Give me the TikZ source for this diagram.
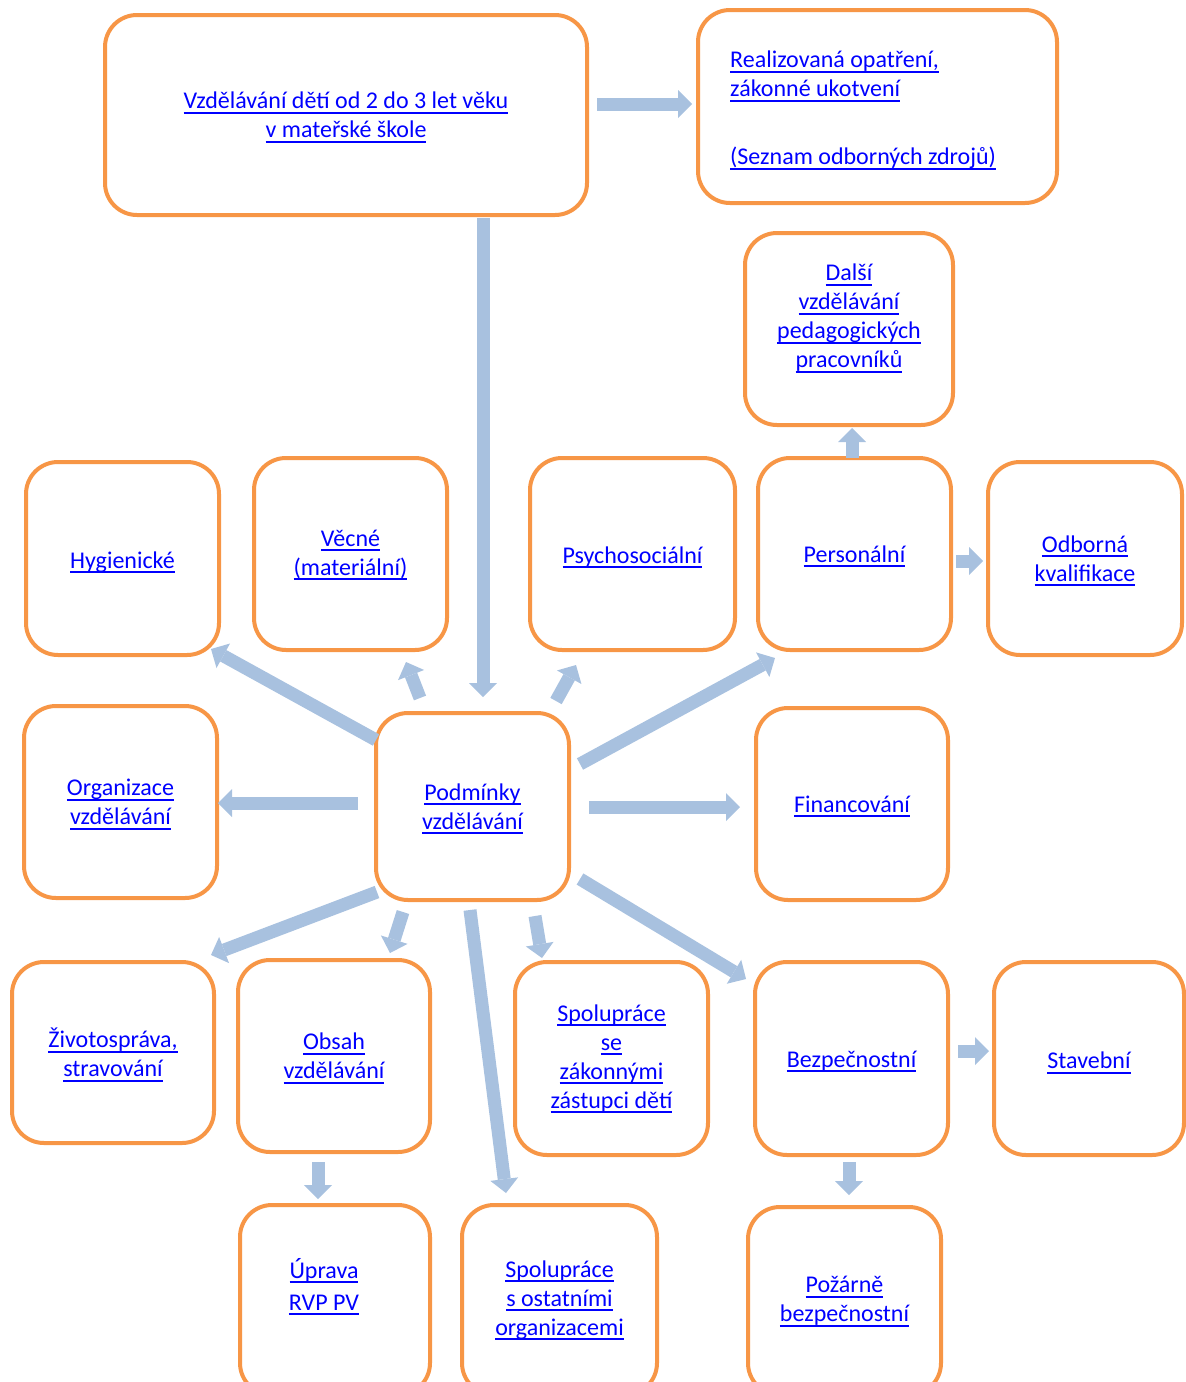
\documentclass[tikz,border=0pt]{standalone}
\usepackage{fontspec}
\setmainfont{Carlito}
\usetikzlibrary{arrows.meta}
\definecolor{boxorange}{HTML}{F79646}
\definecolor{arrblue}{HTML}{A8C1DF}
\definecolor{linkblue}{HTML}{0000FF}
\newcommand{\lk}[1]{\textcolor{linkblue}{\setbox0\hbox{#1}\rlap{\smash{\rule[-5pt]{\wd0}{2pt}}}\box0}}
\begin{document}
\begin{tikzpicture}[x=1pt,y=-1pt,
  box/.style={draw=boxorange,line width=4pt,rounded corners=32pt,fill=white,
    align=center,inner sep=0pt,font=\fontsize{24}{29}\selectfont},
  txt/.style={align=center,inner sep=0pt,font=\fontsize{24}{29}\selectfont},
  barrow/.style={draw=arrblue,line width=13pt,
    -{Triangle[length=14pt,width=28pt,line width=0pt]}}]
\useasboundingbox (0,0) rectangle (1186,1382);
\clip (0,0) rectangle (1186,1382);
% boxes
\node[box,minimum width=482pt,minimum height=200pt] (top) at (346,115)
  {\lk{Vzdělávání dětí od 2 do 3 let věku}\\\lk{v mateřské škole}};
\node[box,minimum width=359pt,minimum height=193pt] (res) at (877.5,106.5) {};
\node[txt,align=left,anchor=north west] (restext) at (730,51)
  {\lk{Realizovaná opatření,}\\\lk{zákonné ukotvení}\\[39pt]\lk{(Seznam odborných zdrojů)}};
\node[box,minimum width=208pt,minimum height=192pt] (dalsi) at (849,329) {};
\node[txt] (dalsitext) at (849,318)
  {\lk{Další}\\\lk{vzdělávání}\\\lk{pedagogických}\\\lk{pracovníků}};
\node[box,minimum width=193pt,minimum height=193pt] (hyg) at (122.5,558.5) {};
\node[txt] (hygtext) at (122.5,562) {\lk{Hygienické}};
\node[box,minimum width=193pt,minimum height=192pt] (vec) at (350.5,554) {\lk{Věcné}\\\lk{(materiální)}};
\node[box,minimum width=205pt,minimum height=192pt] (psy) at (632.5,554) {};
\node[txt] (psytext) at (632.5,557) {\lk{Psychosociální}};
\node[box,minimum width=193pt,minimum height=192pt] (pers) at (854.5,554) {\lk{Personální}};
\node[box,minimum width=194pt,minimum height=193pt] (odb) at (1085,558.5) {\lk{Odborná}\\\lk{kvalifikace}};
\node[box,minimum width=193pt,minimum height=192pt] (org) at (120.5,802) {\lk{Organizace}\\\lk{vzdělávání}};
\node[box,minimum width=193pt,minimum height=187pt] (pod) at (472.5,806.5) {\lk{Podmínky}\\\lk{vzdělávání}};
\node[box,minimum width=192pt,minimum height=192pt] (fin) at (852,804) {\lk{Financování}};
\node[box,minimum width=202pt,minimum height=181pt] (ziv) at (113,1052.5) {\lk{Životospráva,}\\\lk{stravování}};
\node[box,minimum width=192pt,minimum height=192pt] (obs) at (334,1056) {\lk{Obsah}\\\lk{vzdělávání}};
\node[box,minimum width=193pt,minimum height=193pt] (spz) at (611.5,1058.5)
  {\lk{Spolupráce}\\\lk{se}\\\lk{zákonnými}\\\lk{zástupci dětí}};
\node[box,minimum width=193pt,minimum height=193pt] (bez) at (851.5,1058.5) {};
\node[txt] (beztext) at (851.5,1061) {\lk{Bezpečnostní}};
\node[box,minimum width=190pt,minimum height=193pt] (sta) at (1089,1058.5) {};
\node[txt] (statext) at (1089,1060.5) {\lk{Stavební}};
\node[box,minimum width=190pt,minimum height=190pt] (upr) at (335,1300) {};
\node[txt] (uprtext) at (324,1284) {\lk{Úprava}\\[3pt]\lk{RVP PV}};
\node[box,minimum width=195pt,minimum height=190pt] (spo) at (559.5,1300)
  {\lk{Spolupráce}\\\lk{s ostatními}\\\lk{organizacemi}};
\node[box,minimum width=193pt,minimum height=188pt] (poz) at (844.5,1301)
  {\lk{Požárně}\\\lk{bezpečnostní}};
% arrow end points
\coordinate (a1s) at (597,104);  \coordinate (a1e) at (692,104);
\coordinate (a2s) at (483,218);  \coordinate (a2e) at (483,697);
\coordinate (a3s) at (852,458);  \coordinate (a3e) at (852,428);
\coordinate (a4s) at (956,561);  \coordinate (a4e) at (983,561);
\coordinate (a5s) at (376,740);  \coordinate (a5e) at (211,649);
\coordinate (a6s) at (420,698);  \coordinate (a6e) at (406,662);
\coordinate (a7s) at (556,701);  \coordinate (a7e) at (576,665);
\coordinate (a8s) at (580,764);  \coordinate (a8e) at (775,658);
\coordinate (a9s) at (358,803);  \coordinate (a9e) at (218,803);
\coordinate (a10s) at (589,807); \coordinate (a10e) at (740,807);
\coordinate (a11s) at (377,892); \coordinate (a11e) at (211,955);
\coordinate (a12s) at (403,912); \coordinate (a12e) at (390,953);
\coordinate (a13s) at (470,910); \coordinate (a13e) at (506,1193);
\coordinate (a14s) at (535,916); \coordinate (a14e) at (542,958);
\coordinate (a15s) at (580,879); \coordinate (a15e) at (746,979);
\coordinate (a16s) at (958,1051); \coordinate (a16e) at (989,1051);
\coordinate (a17s) at (318,1162); \coordinate (a17e) at (318,1199);
\coordinate (a18s) at (849,1162); \coordinate (a18e) at (849,1195);
\foreach \i in {1,...,18}{\draw[barrow] (a\i s) -- (a\i e);}
\end{tikzpicture}
\end{document}
